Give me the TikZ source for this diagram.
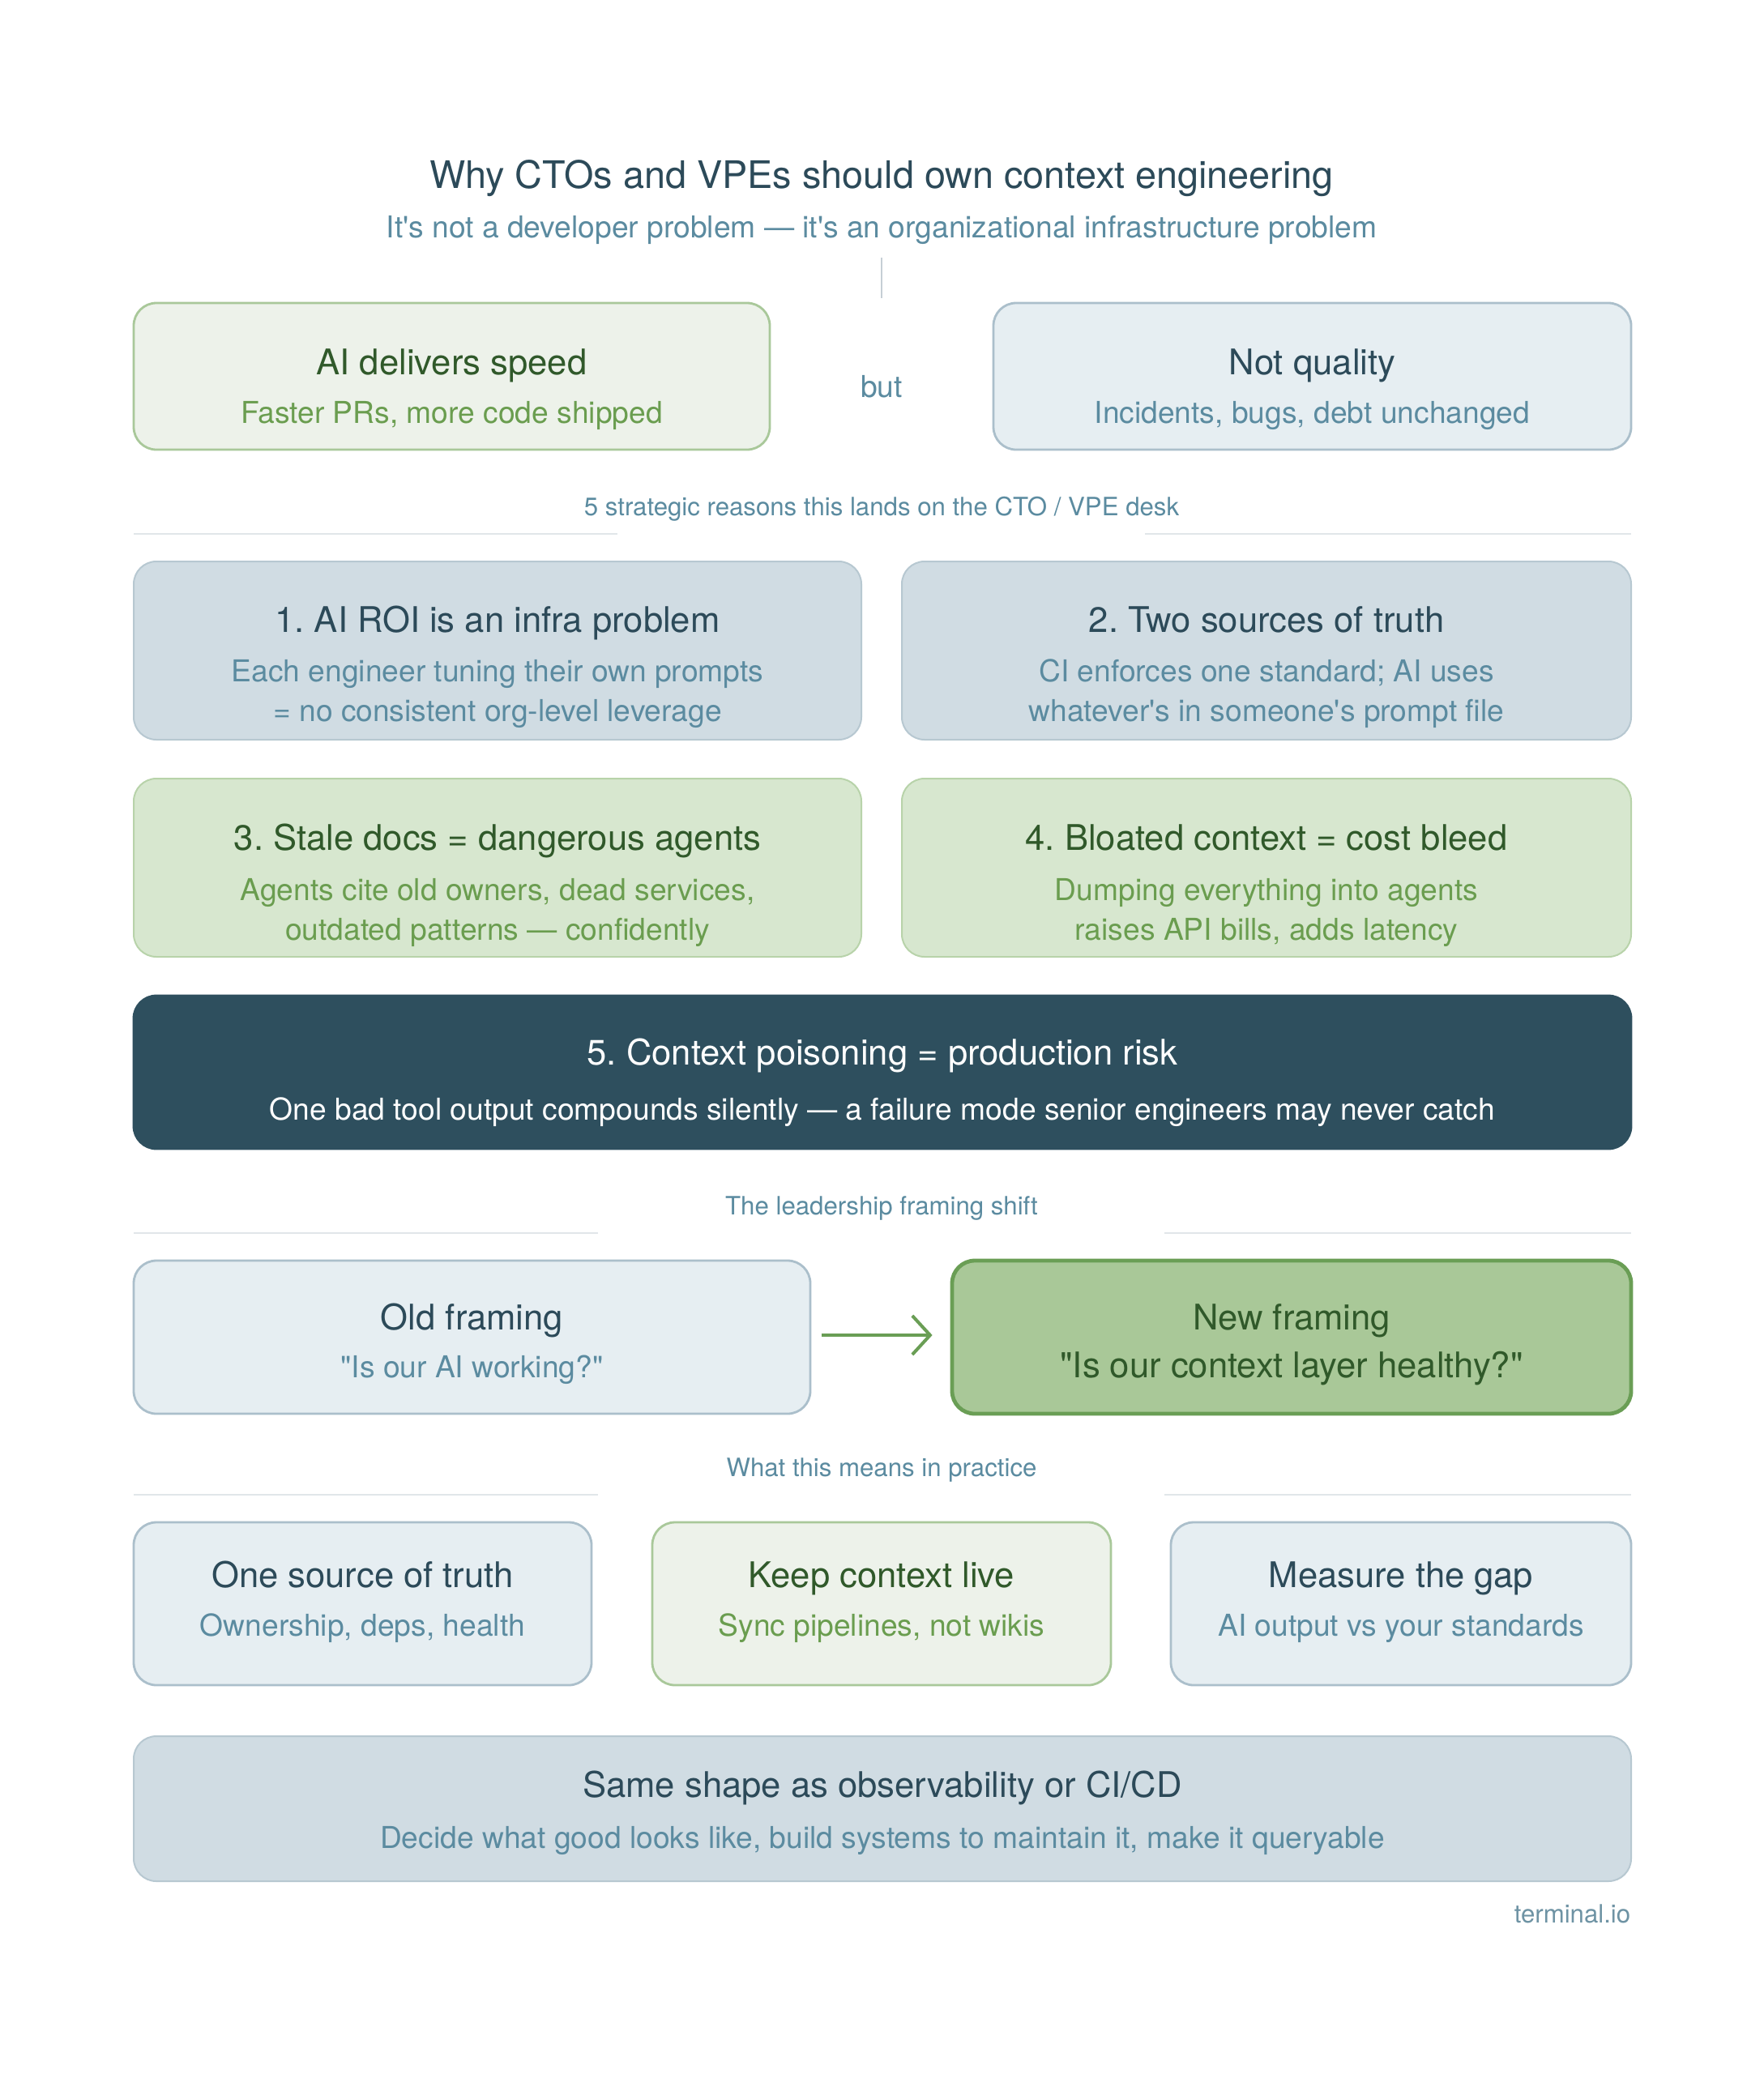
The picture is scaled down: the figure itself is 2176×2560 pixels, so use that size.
\documentclass[tikz,border=0pt]{standalone}
\usepackage{fontspec}
\setmainfont{TeX Gyre Heros}[Ligatures=TeXOff]
\usetikzlibrary{arrows.meta}
\frenchspacing
\definecolor{ctitle}{HTML}{2C4A59}
\definecolor{cblue}{HTML}{5B8BA0}
\definecolor{cterm}{HTML}{6E93A4}
\definecolor{cgreenD}{HTML}{30592A}
\definecolor{cgreenT}{HTML}{6A9D4F}
\definecolor{fillGL}{HTML}{EDF2EA}
\definecolor{drawGL}{HTML}{A9C89A}
\definecolor{fillBL}{HTML}{E6EEF2}
\definecolor{drawBL}{HTML}{ABBFCB}
\definecolor{fillB}{HTML}{D0DCE3}
\definecolor{drawB}{HTML}{B7C8D1}
\definecolor{fillG}{HTML}{D7E7CF}
\definecolor{drawG}{HTML}{B8D3AA}
\definecolor{fillDark}{HTML}{2E4F5E}
\definecolor{fillNew}{HTML}{A9C898}
\definecolor{drawNew}{HTML}{6A9E55}
\definecolor{csep}{HTML}{E1E6E9}
\definecolor{cvline}{HTML}{C6CFD5}
\newcommand{\boxnode}[6]{%
  \node[#6, minimum width={(#4-#2)*0.25pt}, minimum height={(#5-#3)*0.25pt}]
    (#1) at ({(#2+#4)/2},{(#3+#5)/2}) {};}
\tikzset{
  basebox/.style={rectangle, rounded corners=7pt, inner sep=0pt, line width=0.7pt},
  boxGL/.style={basebox, fill=fillGL, draw=drawGL},
  boxBL/.style={basebox, fill=fillBL, draw=drawBL},
  boxB/.style={basebox, fill=fillB, draw=drawB, line width=0.5pt},
  boxG/.style={basebox, fill=fillG, draw=drawG, line width=0.5pt},
  boxDark/.style={basebox, fill=fillDark, draw=fillDark},
  boxNew/.style={basebox, fill=fillNew, draw=drawNew, line width=1.2pt},
  txt/.style={anchor=base, inner sep=0pt},
  tTitle/.style={txt, font=\fontsize{11.7}{14}\selectfont, text=ctitle},
  tHead/.style={txt, font=\fontsize{10.9}{13}\selectfont},
  tBody/.style={txt, font=\fontsize{9.3}{11}\selectfont},
  tLabel/.style={txt, font=\fontsize{7.8}{9}\selectfont, text=cblue},
  sep/.style={draw=csep, line width=0.5pt},
}
\begin{document}
\begin{tikzpicture}[x=0.25pt, y=-0.25pt]
\useasboundingbox[fill=white] (0,0) rectangle (2176,2560);

% title
\node[tTitle] (title) at (1088,232) {Why CTOs and VPEs should own context engineering};
\node[tBody, text=cblue] (subtitle) at (1088,293) {It's not a developer problem — it's an organizational infrastructure problem};
\coordinate (vt) at (1088,318);
\coordinate (vb) at (1088,368);
\draw[cvline, line width=0.5pt] (vt) -- (vb);

% top pair
\boxnode{speed}{165}{374}{950}{555}{boxGL}
\node[tHead, text=cgreenD] (speedH) at (557.5,462) {AI delivers speed};
\node[tBody, text=cgreenT] (speedS) at (557.5,522) {Faster PRs, more code shipped};
\node[tBody, text=cblue] (but) at (1088,490) {but};
\boxnode{quality}{1226}{374}{2013}{555}{boxBL}
\node[tHead, text=ctitle] (qualH) at (1619.5,462) {Not quality};
\node[tBody, text=cblue] (qualS) at (1619.5,522) {Incidents, bugs, debt unchanged};

% section 1
\node[tLabel] (lab1) at (1088,636) {5 strategic reasons this lands on the CTO / VPE desk};
\coordinate (s1a) at (165,659); \coordinate (s1b) at (762,659);
\coordinate (s1c) at (1413,659); \coordinate (s1d) at (2013,659);
\draw[sep] (s1a) -- (s1b); \draw[sep] (s1c) -- (s1d);

\boxnode{r1}{165}{693}{1063}{913}{boxB}
\node[tHead, text=ctitle] (r1H) at (614,780) {1. AI ROI is an infra problem};
\node[tBody, text=cblue] (r1S1) at (614,841) {Each engineer tuning their own prompts};
\node[tBody, text=cblue] (r1S2) at (614,890) {= no consistent org-level leverage};

\boxnode{r2}{1113}{693}{2013}{913}{boxB}
\node[tHead, text=ctitle] (r2H) at (1563,780) {2. Two sources of truth};
\node[tBody, text=cblue] (r2S1) at (1563,841) {CI enforces one standard; AI uses};
\node[tBody, text=cblue] (r2S2) at (1563,890) {whatever's in someone's prompt file};

\boxnode{r3}{165}{961}{1063}{1181}{boxG}
\node[tHead, text=cgreenD] (r3H) at (614,1049) {3. Stale docs = dangerous agents};
\node[tBody, text=cgreenT] (r3S1) at (614,1111) {Agents cite old owners, dead services,};
\node[tBody, text=cgreenT] (r3S2) at (614,1160) {outdated patterns — confidently};

\boxnode{r4}{1113}{961}{2013}{1181}{boxG}
\node[tHead, text=cgreenD] (r4H) at (1563,1049) {4. Bloated context = cost bleed};
\node[tBody, text=cgreenT] (r4S1) at (1563,1111) {Dumping everything into agents};
\node[tBody, text=cgreenT] (r4S2) at (1563,1160) {raises API bills, adds latency};

\boxnode{r5}{165}{1229}{2013}{1418}{boxDark}
\node[tHead, text=white] (r5H) at (1089,1314) {5. Context poisoning = production risk};
\node[tBody, text=white] (r5S) at (1089,1382) {One bad tool output compounds silently — a failure mode senior engineers may never catch};

% section 2
\node[tLabel] (lab2) at (1088,1499) {The leadership framing shift};
\coordinate (s2a) at (165,1522); \coordinate (s2b) at (738,1522);
\coordinate (s2c) at (1437,1522); \coordinate (s2d) at (2013,1522);
\draw[sep] (s2a) -- (s2b); \draw[sep] (s2c) -- (s2d);

\boxnode{old}{165}{1556}{1000}{1745}{boxBL}
\node[tHead, text=ctitle] (oldH) at (582.5,1641) {Old framing};
\node[tBody, text=cblue] (oldS) at (582.5,1700) {"Is our AI working?"};

\boxnode{new}{1175}{1556}{2013}{1745}{boxNew}
\node[tHead, text=cgreenD] (newH) at (1594,1641) {New framing};
\node[tHead, text=cgreenD] (newS) at (1594,1700) {"Is our context layer healthy?"};

\draw[drawNew, line width=1pt, shorten <=3.25pt, shorten >=5.5pt,
  -{Straight Barb[length=5.5pt, width=12pt, line width=1pt]}]
  (old.east |- 0,1648) -- (new.west |- 0,1648);

% section 3
\node[tLabel] (lab3) at (1088,1822) {What this means in practice};
\coordinate (s3a) at (165,1845); \coordinate (s3b) at (738,1845);
\coordinate (s3c) at (1437,1845); \coordinate (s3d) at (2013,1845);
\draw[sep] (s3a) -- (s3b); \draw[sep] (s3c) -- (s3d);

\boxnode{p1}{165}{1879}{730}{2080}{boxBL}
\node[tHead, text=ctitle] (p1H) at (447.5,1959) {One source of truth};
\node[tBody, text=cblue] (p1S) at (447.5,2019) {Ownership, deps, health};

\boxnode{p2}{805}{1879}{1371}{2080}{boxGL}
\node[tHead, text=cgreenD] (p2H) at (1088,1959) {Keep context live};
\node[tBody, text=cgreenT] (p2S) at (1088,2019) {Sync pipelines, not wikis};

\boxnode{p3}{1445}{1879}{2013}{2080}{boxBL}
\node[tHead, text=ctitle] (p3H) at (1729,1959) {Measure the gap};
\node[tBody, text=cblue] (p3S) at (1729,2019) {AI output vs your standards};

\boxnode{bottom}{165}{2143}{2013}{2322}{boxB}
\node[tHead, text=ctitle] (botH) at (1089,2218) {Same shape as observability or CI/CD};
\node[tBody, text=cblue] (botS) at (1089,2281) {Decide what good looks like, build systems to maintain it, make it queryable};

\node[tLabel, anchor=base east, text=cterm] (brand) at (2013,2373) {terminal.io};
\end{tikzpicture}
\end{document}
